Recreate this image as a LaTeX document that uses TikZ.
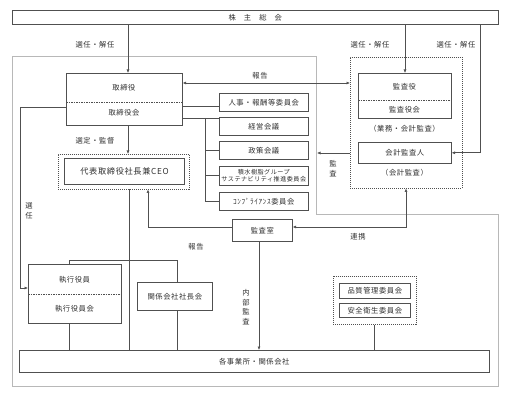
\documentclass[tikz,border=0pt]{standalone}
\usepackage{fontspec}
\setmainfont{Noto Sans CJK JP}[LetterSpace=8]
\usetikzlibrary{arrows.meta}
\definecolor{lc}{HTML}{505050}
\definecolor{fc}{HTML}{B8B8B8}
\definecolor{tc}{HTML}{303030}
\begin{document}
\begin{tikzpicture}[x=1pt,y=-1pt,
  font=\fontsize{7.3}{9}\selectfont, text=tc,
  box/.style={draw=lc, line width=0.6pt, fill=white, anchor=north west, inner sep=0pt},
  dbox/.style={draw=lc, line width=0.5pt, dash pattern=on 1pt off 1pt, anchor=north west, inner sep=0pt},
  ln/.style={draw=lc, line width=0.6pt},
  arr/.style={ln, -{Latex[length=3.5pt,width=3pt]}},
  darr/.style={ln, {Latex[length=3.5pt,width=3pt]}-{Latex[length=3.5pt,width=3pt]}},
  sep/.style={draw=lc, line width=0.5pt, dash pattern=on 1.5pt off 1pt},
  lbl/.style={inner sep=0pt, align=center}
]
\useasboundingbox (0,0) rectangle (505,395);
\fill[white] (0,0) rectangle (505,395);
% outer frame
\draw[fc, line width=0.7pt] (12,56) -- (316,56) -- (316,214) -- (498,214) -- (498,386) -- (12,386) -- cycle;

% top box
\node[box, minimum width=486pt, minimum height=14pt] (soukai) at (12,10) {};
\node[lbl] (soukait) at (soukai.center) {株\hspace{8pt}主\hspace{8pt}総\hspace{8pt}会};

% board of directors
\node[box, minimum width=116pt, minimum height=52pt] (tori) at (66,73) {};
\draw[sep] (tori.west |- 0,102) -- (tori.east |- 0,102);
\node[lbl] (torit1) at (124,88) {取締役};
\node[lbl] (torit2) at (124,113) {取締役会};

% audit group
\node[dbox, minimum width=112pt, minimum height=131pt] (kgrp) at (350,57) {};
\node[box, minimum width=93pt, minimum height=45pt] (kyaku) at (358,73) {};
\draw[sep] (kyaku.west |- 0,100) -- (kyaku.east |- 0,100);
\node[lbl] (kyakut1) at (404.5,87) {監査役};
\node[lbl] (kyakut2) at (404.5,110) {監査役会};
\node[lbl] (gyomu) at (404.5,129) {（業務・会計監査）};
\node[box, minimum width=93pt, minimum height=21pt] (kaikei) at (358,142) {会計監査人};
\node[lbl] (kaikeit) at (404.5,173) {（会計監査）};

% committees
\node[box, minimum width=89pt, minimum height=18pt] (jinji) at (219,93) {人事・報酬等委員会};
\node[box, minimum width=89pt, minimum height=18pt] (keiei) at (219,117) {経営会議};
\node[box, minimum width=89pt, minimum height=18pt] (seisaku) at (219,141) {政策会議};
\node[box, minimum width=89pt, minimum height=19pt, align=center,
  font=\fontsize{6.1}{7.6}\selectfont] (sekisui) at (219,166) {積水樹脂グループ\\サステナビリティ推進委員会};
\node[box, minimum width=89pt, minimum height=18pt] (compl) at (219,192) {ｺﾝﾌﾟﾗｲｱﾝｽ委員会};

% CEO
\node[dbox, minimum width=131pt, minimum height=35pt] (ceoo) at (58,154) {};
\node[box, line width=1pt, minimum width=120pt, minimum height=26pt, font=\fontsize{8.2}{9}\selectfont] (ceo) at (64,158) {代表取締役社長兼CEO};

% audit office
\node[box, minimum width=60pt, minimum height=22pt] (kshitsu) at (232,219) {監査室};

% executive officers
\node[box, minimum width=93pt, minimum height=59pt] (shikko) at (28,264) {};
\draw[sep] (shikko.west |- 0,294) -- (shikko.east |- 0,294);
\node[lbl] (shikkot1) at (74.5,280) {執行役員};
\node[lbl] (shikkot2) at (74.5,309) {執行役員会};

% affiliates presidents
\node[box, minimum width=75pt, minimum height=28pt] (kankei) at (137,282) {関係会社社長会};

% quality / safety
\node[dbox, minimum width=83pt, minimum height=48pt] (qgrp) at (333,276) {};
\node[box, minimum width=71pt, minimum height=15pt] (hinshitsu) at (339,283) {品質管理委員会};
\node[box, minimum width=71pt, minimum height=14pt] (anzen) at (339,303) {安全衛生委員会};

% bottom
\node[box, minimum width=470pt, minimum height=22pt] (kaku) at (19,350) {各事業所・関係会社};

% connectors from shareholders
\draw[arr] (soukai.south -| 128,0) -- (tori.north -| 128,0);
\draw[arr] (soukai.south -| 405,0) -- (kyaku.north -| 405,0);
\draw[arr] (soukai.south -| 480,0) |- (kaikei.east);
\node[lbl] (l1) at (95,45) {選任・解任};
\node[lbl] (l2) at (370,45) {選任・解任};
\node[lbl] (l3) at (456,45) {選任・解任};

% report board <-> audit
\draw[darr] (tori.east |- 0,83) -- (kgrp.west |- 0,83);
\node[lbl] (l4) at (260,76) {報告};

% board to committees
\draw[ln] (tori.east |- 0,106) -- (jinji.west |- 0,106);
\draw[ln] (tori.east |- 0,118) -- (keiei.west |- 0,118);
\draw[ln] (205,118) -- (205,201);
\draw[ln] (205,0 |- seisaku.west) -- (seisaku.west);
\draw[ln] (205,0 |- sekisui.west) -- (sekisui.west);
\draw[ln] (205,0 |- compl.west) -- (compl.west);

% audit arrow to board frame
\coordinate (bedge) at (317,153);
\draw[arr] (kgrp.west |- 0,153) -- (bedge);
\node[lbl] (l5) at (333,169) {監\\[1pt]査};

% board to CEO
\draw[arr] (tori.south -| 128,0) -- (ceoo.north -| 128,0);
\node[lbl] (l6) at (95,141) {選定・監督};

% board to exec officers
\draw[arr] (tori.west |- 0,107) -- (20,107) -- (20,288) -- (shikko.west |- 0,288);
\node[lbl] (l7) at (29,211) {選\\[1pt]任};

% CEO down
\draw[ln] (ceoo.south -| 129,0) -- (kaku.north -| 129,0);
\draw[ln] (shikko.north -| 69,0) -- (69,260) -- (177,260) -- (kankei.north -| 177,0);
\draw[ln] (shikko.south -| 69,0) -- (kaku.north -| 69,0);
\draw[ln] (kankei.south -| 177,0) -- (kaku.north -| 177,0);

% audit office
\draw[arr] (kshitsu.west |- 0,227) -| (ceoo.south -| 148,0);
\node[lbl] (l8) at (196,247) {報告};
\draw[darr] (kshitsu.east |- 0,227) -| (kgrp.south -| 406,0);
\node[lbl] (l9) at (358,237) {連携};
\draw[arr] (kshitsu.south -| 259,0) -- (kaku.north -| 259,0);
\node[lbl] (l10) at (246,307) {内\\[0.5pt]部\\[0.5pt]監\\[0.5pt]査};

% quality group to bottom
\draw[ln] (qgrp.south -| 374,0) -- (kaku.north -| 374,0);
\end{tikzpicture}
\end{document}
